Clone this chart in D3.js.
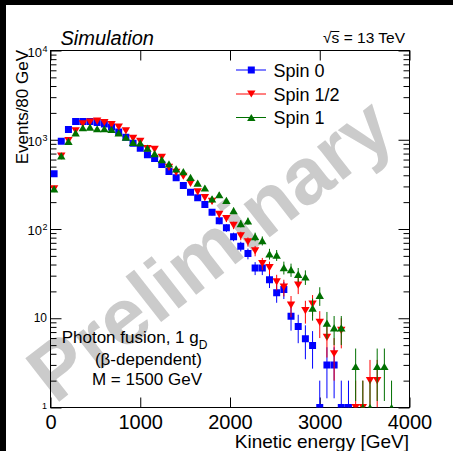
<!DOCTYPE html>
<html>
<head>
<meta charset="utf-8">
<script src="https://cdn.jsdelivr.net/npm/d3@7"></script>
<style>
  html, body { margin: 0; padding: 0; background: #fff; }
  svg { display: block; font-family: "Liberation Sans", Arial, sans-serif; }
</style>
</head>
<body>
<svg id="chart" width="453" height="451"></svg>
<script>
// 80 GeV bins from 0 to 4000 GeV, contents per bin
var binWidth = 80;
var spin0 = [416, 963, 1303, 1600, 1600, 1600, 1560, 1500, 1390, 1220,
             1066, 915, 804, 678, 615, 528, 440, 375, 307, 258,
             224, 188, 154, 124, 103, 82, 64, 53, 36.5, 36.5,
             27, 19.3, 21, 10.5, 8.1, 5.9, 4.95, 1, 3, 3,
             1, 1, 0, 0, 0, 0, 0, 0, 0, 0];
var spinHalf = [282, 654, 981, 1262, 1504, 1578, 1620, 1560, 1477, 1386,
                1256, 1038, 960, 796, 780, 637, 490, 430, 390, 325,
                261, 225, 204, 146, 131, 110, 84, 72, 57, 41,
                37, 25.6, 22.3, 14, 23.5, 12.2, 14.4, 9, 6.1, 4,
                7.3, 0, 1, 1, 2, 2, 0, 0, 0, 0];
var spin1 = [282, 660, 960, 1197, 1363, 1386, 1328, 1328, 1303, 1197,
             1066, 933, 920, 804, 700, 600, 537, 472, 440, 378,
             327, 288, 218, 242, 209, 161, 115, 123, 82, 74,
             52.7, 51, 37, 35, 31, 29, 13, 18, 8.8, 7.8,
             7.8, 0, 2.88, 1, 1, 2.88, 2.88, 1, 0, 0];

var xTicks = [0, 1000, 2000, 3000, 4000];
var yMajor = [1, 10, 100, 1000, 10000];
var yMantissa = ["1", "10", "10", "10", "10"];
var yExponent = ["", "", "2", "3", "4"];
var seriesNames = ["Spin 0", "Spin 1/2", "Spin 1"];
var seriesColors = ["#0000ff", "#ff0000", "#007000"];
var seriesShapes = ["square", "down", "up"];

var svg = d3.select("#chart");

// black bands along the top and left edge
svg.append("rect").attr("x", 0).attr("y", 0).attr("width", 453).attr("height", 5).attr("fill", "#000");
svg.append("rect").attr("x", 0).attr("y", 0).attr("width", 6).attr("height", 451).attr("fill", "#000");

var x = d3.scaleLinear().domain([0, 4000]).range([50.5, 409.5]);
var y = d3.scaleLog().domain([1, 10000]).range([407.5, 50.5]);

// watermark behind everything
svg.append("text")
    .text("Preliminary")
    .attr("transform", "translate(55,405) rotate(-38)")
    .attr("font-size", 80)
    .attr("font-weight", "bold")
    .attr("fill", "#cbcbcb");

// frame
svg.append("rect")
    .attr("x", 50.5).attr("y", 50.5)
    .attr("width", 359).attr("height", 357)
    .attr("fill", "none")
    .attr("stroke", "#000");

// x axes (ticks point inwards)
var xBottom = svg.append("g")
    .attr("transform", "translate(0,407.5)")
    .call(d3.axisBottom(x).tickValues(xTicks).tickSizeInner(-10).tickSizeOuter(0).tickPadding(7).tickFormat(d3.format("d")));
xBottom.selectAll("text").attr("font-size", 20).attr("font-family", "Liberation Sans, Arial, sans-serif").attr("fill", "#000");

svg.append("g")
    .attr("transform", "translate(0,50.5)")
    .call(d3.axisTop(x).tickValues(xTicks).tickSizeInner(-10).tickSizeOuter(0).tickFormat(""));

// y axes, major and minor log ticks on both sides
var yMinor = [];
for (var d = 1; d < 10000; d *= 10) {
    for (var m = 2; m <= 9; m++) yMinor.push(d * m);
}
svg.append("g").attr("transform", "translate(50.5,0)")
    .call(d3.axisLeft(y).tickValues(yMajor).tickSizeInner(-11).tickSizeOuter(0).tickFormat(""));
svg.append("g").attr("transform", "translate(50.5,0)")
    .call(d3.axisLeft(y).tickValues(yMinor).tickSizeInner(-6).tickSizeOuter(0).tickFormat(""));
svg.append("g").attr("transform", "translate(409.5,0)")
    .call(d3.axisRight(y).tickValues(yMajor).tickSizeInner(-11).tickSizeOuter(0).tickFormat(""));
svg.append("g").attr("transform", "translate(409.5,0)")
    .call(d3.axisRight(y).tickValues(yMinor).tickSizeInner(-6).tickSizeOuter(0).tickFormat(""));
svg.selectAll(".domain").remove();

// y tick labels with exponents
yMajor.forEach(function(v, i) {
    var yy = y(v);
    if (yExponent[i] === "") {
        svg.append("text")
            .text(yMantissa[i])
            .attr("x", 47).attr("y", yy + (v === 1 ? 1.5 : 4))
            .attr("text-anchor", "end")
            .attr("font-size", v === 1 ? 9 : 12);
    } else {
        svg.append("text")
            .text(yMantissa[i])
            .attr("x", 42).attr("y", yy + 6)
            .attr("text-anchor", "end")
            .attr("font-size", 13);
        svg.append("text")
            .text(yExponent[i])
            .attr("x", 42.5).attr("y", yy + 1)
            .attr("font-size", 9);
    }
});

// axis titles
svg.append("text")
    .text("Kinetic energy [GeV]")
    .attr("x", 409).attr("y", 448)
    .attr("text-anchor", "end")
    .attr("font-size", 19);

svg.append("text")
    .text("Events/80 GeV")
    .attr("transform", "translate(28,50) rotate(-90)")
    .attr("text-anchor", "end")
    .attr("font-size", 17);

// markers
function markerPath(shape, cx, cy) {
    var p = d3.path();
    if (shape === "square") {
        p.rect(cx - 3.5, cy - 3.5, 7, 7);
    } else if (shape === "down") {
        p.moveTo(cx - 4.2, cy - 3.6);
        p.lineTo(cx + 4.2, cy - 3.6);
        p.lineTo(cx, cy + 3.6);
        p.closePath();
    } else {
        p.moveTo(cx - 4.2, cy + 3.6);
        p.lineTo(cx + 4.2, cy + 3.6);
        p.lineTo(cx, cy - 3.6);
        p.closePath();
    }
    return p.toString();
}

svg.append("defs").append("clipPath").attr("id", "plotClip")
    .append("rect").attr("x", 50.5).attr("y", 50.5).attr("width", 359).attr("height", 357);

var plot = svg.append("g").attr("clip-path", "url(#plotClip)");

[spin0, spinHalf, spin1].forEach(function(values, s) {
    var pts = values.map(function(v, i) {
        return { e: binWidth * (i + 0.5), v: v };
    }).filter(function(d) { return d.v > 0; });

    var g = plot.append("g");
    g.selectAll("line").data(pts).enter().append("line")
        .attr("x1", function(d) { return x(d.e); })
        .attr("x2", function(d) { return x(d.e); })
        .attr("y1", function(d) { return y(d.v + Math.sqrt(d.v)); })
        .attr("y2", function(d) { return y(Math.max(d.v - Math.sqrt(d.v), 1)); })
        .attr("stroke", seriesColors[s])
        .attr("stroke-width", 1);
    g.selectAll("path").data(pts).enter().append("path")
        .attr("d", function(d) { return markerPath(seriesShapes[s], x(d.e), y(d.v)); })
        .attr("fill", seriesColors[s]);
});

// legend
var legendY = [70, 94, 117.5];
seriesNames.forEach(function(name, s) {
    var ly = legendY[s];
    svg.append("line")
        .attr("x1", 236).attr("x2", 266)
        .attr("y1", ly).attr("y2", ly)
        .attr("stroke", seriesColors[s]);
    svg.append("path")
        .attr("d", markerPath(seriesShapes[s], 251.3, ly))
        .attr("fill", seriesColors[s]);
    svg.append("text")
        .text(name)
        .attr("x", 273.5).attr("y", ly + 6.5)
        .attr("font-size", 18);
});

// labels
svg.append("text")
    .text("Simulation")
    .attr("x", 60.5).attr("y", 45)
    .attr("font-size", 20)
    .attr("font-style", "italic");

var energy = svg.append("text")
    .text("\u221as = 13 TeV")
    .attr("x", 405).attr("y", 43.3)
    .attr("text-anchor", "end")
    .attr("font-size", 15.5);
var sStart = energy.node().getStartPositionOfChar(1);
var sEnd = energy.node().getEndPositionOfChar(1);
svg.append("line")
    .attr("x1", sStart.x - 0.5).attr("x2", sEnd.x)
    .attr("y1", 31.5).attr("y2", 31.5)
    .attr("stroke", "#000").attr("stroke-width", 1);

var info = svg.append("text")
    .attr("x", 61.7).attr("y", 343)
    .attr("font-size", 17);
info.append("tspan").text("Photon fusion, 1 g");
info.append("tspan").text("D").attr("font-size", 12).attr("dy", 6);

svg.append("text")
    .text("(\u03b2-dependent)")
    .attr("x", 202).attr("y", 364.5)
    .attr("text-anchor", "end")
    .attr("font-size", 17);

svg.append("text")
    .text("M = 1500 GeV")
    .attr("x", 202).attr("y", 385)
    .attr("text-anchor", "end")
    .attr("font-size", 17);
</script>
</body>
</html>
